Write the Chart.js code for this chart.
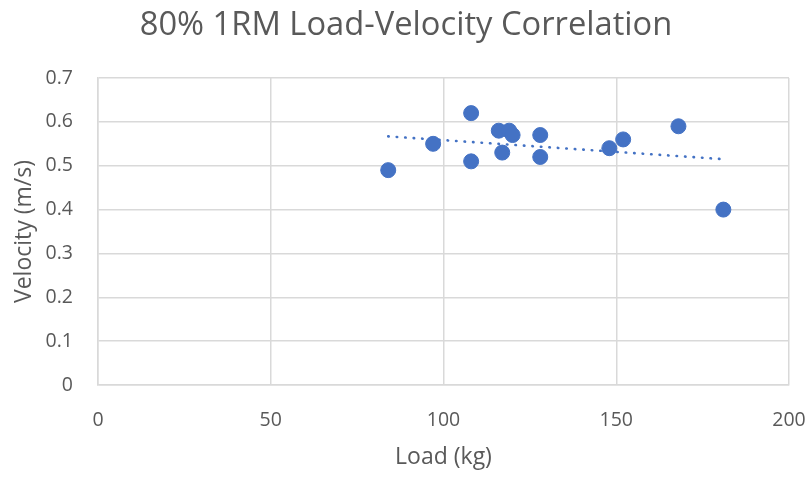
<!DOCTYPE html>
<html>
<head>
<meta charset="utf-8">
<script src="https://cdn.jsdelivr.net/npm/chart.js@4"></script>
<style>
    body { margin: 0; background: #ffffff; }
</style>
</head>
<body>
<canvas id="lvChart" width="812" height="477"></canvas>
<script>
// DATA
const loadKg = [84, 97, 108, 108, 116, 117, 119, 120, 128, 128, 148, 152, 168, 181];
const velocity = [0.49, 0.55, 0.62, 0.51, 0.58, 0.53, 0.58, 0.57, 0.57, 0.52, 0.54, 0.56, 0.59, 0.40];

// linear trendline endpoints
const trendX = [84, 181];
const trendY = [0.567, 0.515];

const xTicks = [0, 50, 100, 150, 200];
const yTicks = [0, 0.1, 0.2, 0.3, 0.4, 0.5, 0.6, 0.7];

const FONT = "'Open Sans', sans-serif";
const TEXT = "#595959";
const GRID = "#d9d9d9";
const BLUE = "#4472C4";

const points = loadKg.map((x, i) => ({ x: x, y: velocity[i] }));
const trend = trendX.map((x, i) => ({ x: x, y: trendY[i] }));

new Chart(document.getElementById("lvChart"), {
    type: "scatter",
    data: {
        datasets: [
            {
                label: "Velocity",
                data: points,
                backgroundColor: BLUE,
                borderColor: BLUE,
                borderWidth: 1,
                pointRadius: 7.5,
                order: 1
            },
            {
                label: "Trend",
                data: trend,
                showLine: true,
                pointRadius: 0,
                borderColor: BLUE,
                borderWidth: 2.6,
                borderDash: [0.5, 8],
                borderCapStyle: "round",
                order: 2
            }
        ]
    },
    options: {
        responsive: false,
        animation: false,
        devicePixelRatio: 1,
        layout: { padding: 0 },
        plugins: {
            legend: { display: false },
            tooltip: { enabled: false },
            title: {
                display: true,
                text: "80% 1RM Load-Velocity Correlation",
                color: TEXT,
                font: { family: FONT, size: 32.7, weight: "normal", lineHeight: 1.2 },
                padding: { top: 6.4, bottom: 32.4 }
            }
        },
        scales: {
            x: {
                type: "linear",
                min: 0,
                max: 200,
                afterBuildTicks: s => { s.ticks = xTicks.map(v => ({ value: v })); },
                afterFit: s => {
                    // room on the right for the "200" label, like the original
                    s.height = 92;
                    s.paddingLeft = 0;
                    s.paddingRight = 23;
                },
                grid: { color: GRID, lineWidth: 1.5, drawTicks: false },
                border: { color: GRID, width: 1.5 },
                ticks: { color: TEXT, font: { family: FONT, size: 19.5 }, padding: 23.3 },
                title: {
                    display: true,
                    text: "Load (kg)",
                    color: TEXT,
                    font: { family: FONT, size: 23 },
                    padding: { top: 5.6, bottom: 5.6 }
                }
            },
            y: {
                type: "linear",
                min: 0,
                max: 0.7,
                afterBuildTicks: s => { s.ticks = yTicks.map(v => ({ value: v })); },
                afterFit: s => { s.width = 98; },
                grid: { color: GRID, lineWidth: 1.5, drawTicks: false },
                border: { color: GRID, width: 1.5 },
                ticks: {
                    color: TEXT,
                    font: { family: FONT, size: 19.5 },
                    padding: 25,
                    callback: v => String(Number(v.toFixed(1)))
                },
                title: {
                    display: true,
                    text: "Velocity (m/s)",
                    color: TEXT,
                    font: { family: FONT, size: 23 },
                    padding: { top: 10.2, bottom: 10.2 }
                }
            }
        }
    }
});
</script>
</body>
</html>
